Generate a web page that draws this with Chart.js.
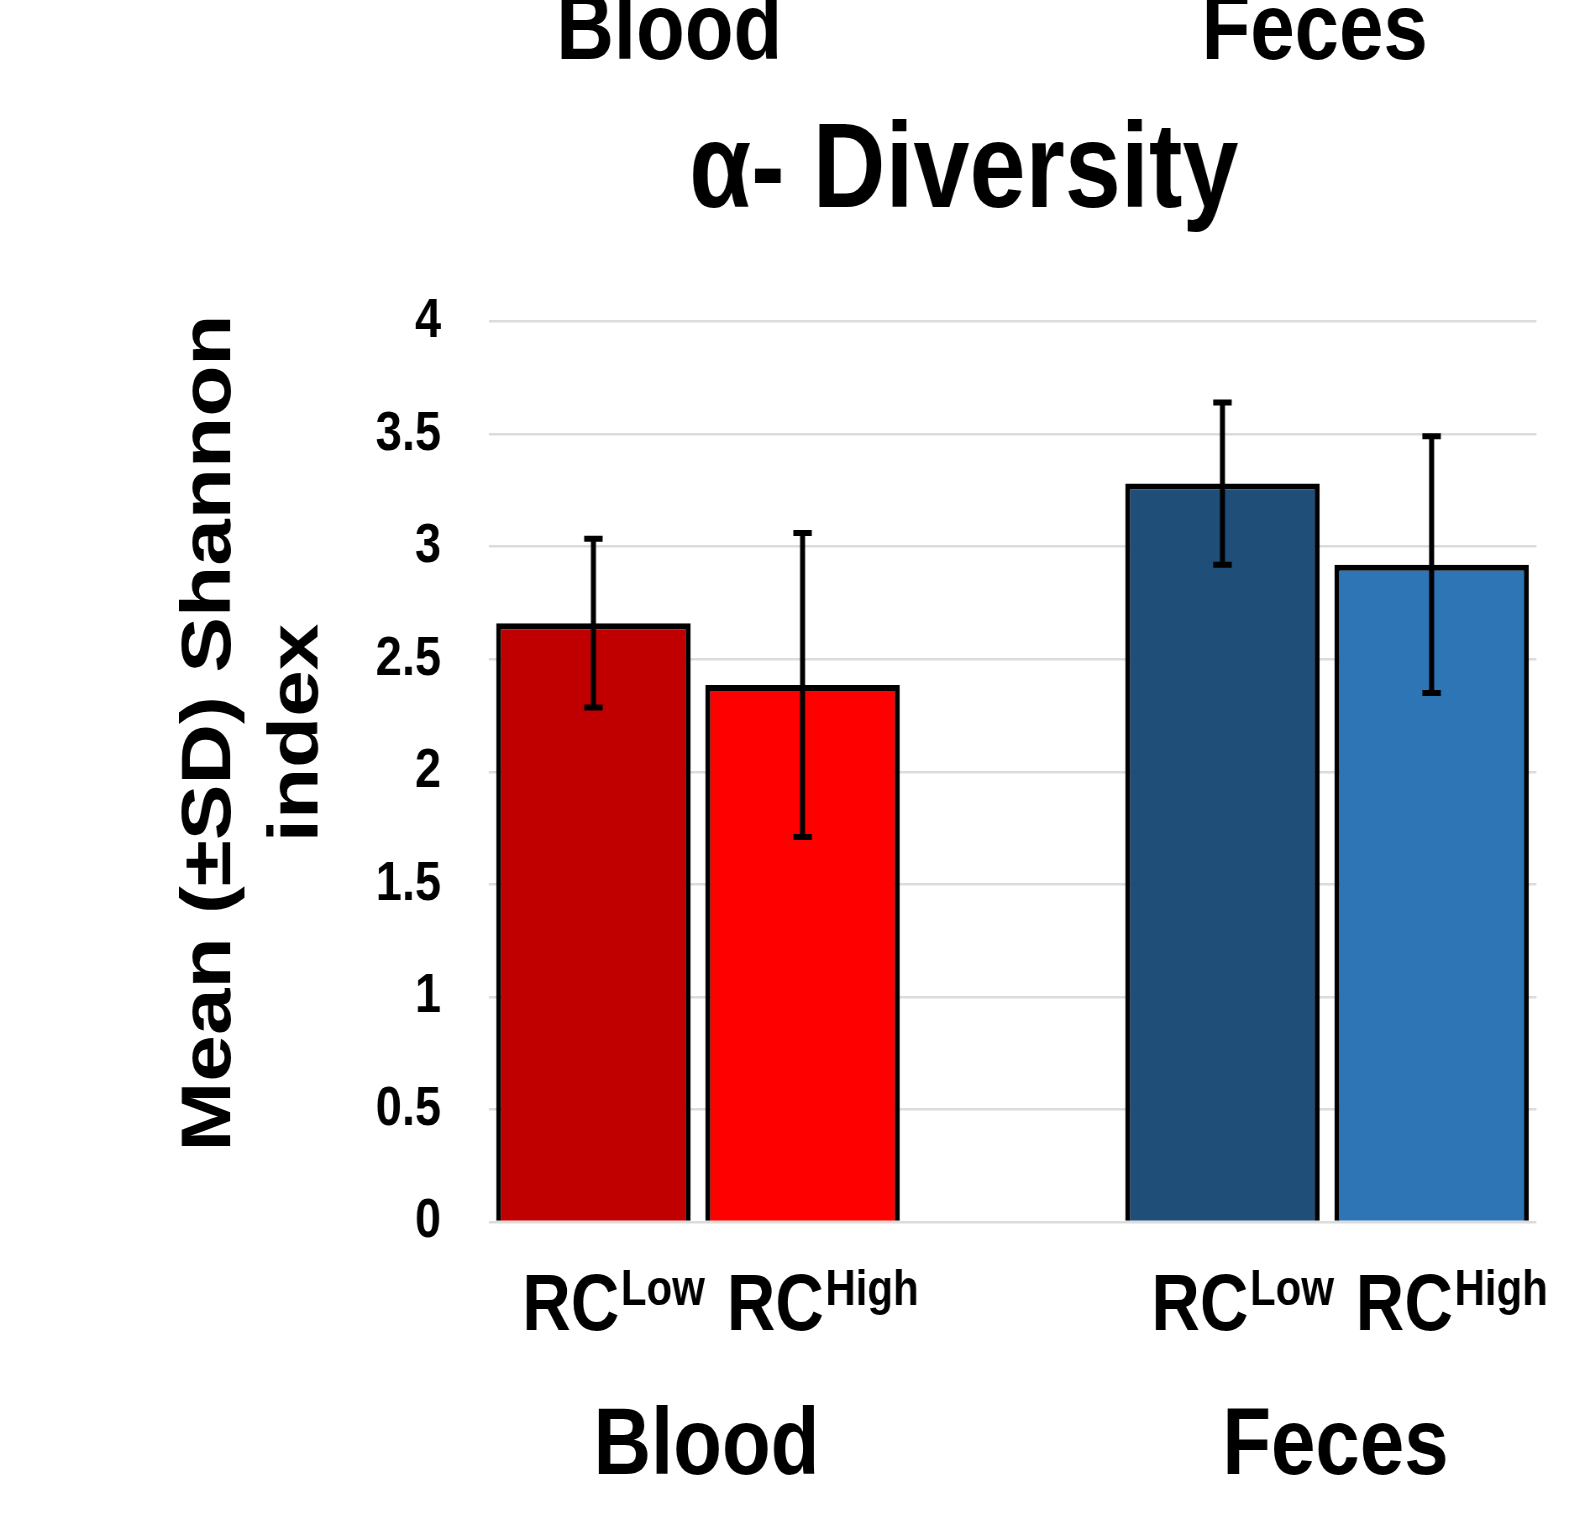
<!DOCTYPE html>
<html>
<head>
<meta charset="utf-8">
<script src="https://cdn.jsdelivr.net/npm/chart.js@4.4.1/dist/chart.umd.min.js"></script>
<style>
  html, body { margin: 0; padding: 0; background: #fff; overflow: hidden; }
  canvas { display: block; }
</style>
</head>
<body>
<!-- drawn wide, then squeezed to 1590px like the original figure -->
<canvas id="myChart" width="1893" height="1522" style="width:1590px;height:1522px"></canvas>
<script>
const groups = ['Blood', 'Feces']
const lowMeans = [2.66, 3.28]
const highMeans = [2.385, 2.92]
const lowSD = [0.375, 0.36]
const highSD = [0.675, 0.57]
const lowColors = ['#C00000', '#1F4E79']
const highColors = ['#FF0000', '#2E75B6']
const yTicks = [0, 0.5, 1, 1.5, 2, 2.5, 3, 3.5, 4]
const chartTitle = 'α- Diversity'
const yTitle = ['Mean (±SD) Shannon', 'index']

const family = "'Liberation Sans', Arial, sans-serif"

const errorBars = {
    id: 'errorBars',
    afterDatasetsDraw(chart) {
        const ctx = chart.ctx
        const y = chart.scales.y
        chart.data.datasets.forEach((ds, i) => {
            chart.getDatasetMeta(i).data.forEach((bar, j) => {
                const v = ds.data[j].y
                const top = y.getPixelForValue(v + ds.sd[j])
                const bottom = y.getPixelForValue(v - ds.sd[j])
                ctx.save()
                ctx.strokeStyle = '#000'
                ctx.lineWidth = 6
                ctx.beginPath()
                ctx.moveTo(bar.x, top)
                ctx.lineTo(bar.x, bottom)
                ctx.moveTo(bar.x - 11, top)
                ctx.lineTo(bar.x + 11, top)
                ctx.moveTo(bar.x - 11, bottom)
                ctx.lineTo(bar.x + 11, bottom)
                ctx.stroke()
                ctx.restore()
            })
        })
    }
}

// RC^Low / RC^High under each bar, the big title and the y title
const textLayer = {
    id: 'textLayer',
    afterDraw(chart) {
        const ctx = chart.ctx
        const base = chart.scales.x.top
        ctx.save()
        ctx.fillStyle = '#000'
        ctx.textBaseline = 'alphabetic'
        ctx.textAlign = 'left'
        chart.data.datasets.forEach((ds, i) => {
            chart.getDatasetMeta(i).data.forEach((bar) => {
                ctx.font = `bold 80px ${family}`
                const w1 = ctx.measureText('RC').width
                ctx.font = `bold 50px ${family}`
                const w2 = ctx.measureText(ds.label).width
                const x = bar.x + 23 - (w1 + w2) / 2
                ctx.font = `bold 80px ${family}`
                ctx.fillText('RC', x, base + 108)
                ctx.font = `bold 50px ${family}`
                ctx.fillText(ds.label, x + w1 + 2, base + 83)
            })
        })

        ctx.font = `bold 120px ${family}`
        ctx.textAlign = 'center'
        ctx.textBaseline = 'middle'
        ctx.fillText(chartTitle, chart.width / 2 + 201, 174)

        // y title, sized so the first line is 837px long
        ctx.font = `bold 100px ${family}`
        const size = 100 * 837 / ctx.measureText(yTitle[0]).width
        ctx.font = `bold ${size}px ${family}`
        ctx.textBaseline = 'alphabetic'
        const mid = 733
        ;[274, 378].forEach((bx, k) => {
            ctx.save()
            ctx.translate(bx, mid)
            ctx.rotate(-Math.PI / 2)
            ctx.fillText(yTitle[k], 0, 0)
            ctx.restore()
        })
        ctx.restore()
    }
}

const data = {
    datasets: [
        {
            label: 'Low',
            xAxisID: 'x',
            data: groups.map((g, j) => ({ x: j + 1, y: lowMeans[j] })),
            sd: lowSD,
            backgroundColor: lowColors,
            borderColor: '#000',
            borderWidth: 6
        },
        {
            label: 'High',
            xAxisID: 'x',
            data: groups.map((g, j) => ({ x: j + 1, y: highMeans[j] })),
            sd: highSD,
            backgroundColor: highColors,
            borderColor: '#000',
            borderWidth: 6
        }
    ]
}

const groupTicks = (s) => { s.ticks = groups.map((g, i) => ({ value: i + 1 })) }
const bigFont = { size: 95, weight: 'bold', family: family, lineHeight: 1 }
// fixed box size, and no extra side padding from the big labels
const fixHeight = (h) => (s) => {
    s.height = h
    s.paddingLeft = 0
    s.paddingRight = 0
}

const config = {
    type: 'bar',
    data: data,
    plugins: [errorBars, textLayer],
    options: {
        responsive: false,
        animation: false,
        layout: { padding: { left: 0, right: 63.7, top: 0, bottom: 0 } },
        datasets: { bar: { categoryPercentage: 0.665, barPercentage: 0.93 } },
        plugins: {
            legend: { display: false },
            tooltip: { enabled: false },
            title: { display: false }
        },
        scales: {
            x: {
                type: 'linear',
                position: 'bottom',
                offset: false,
                min: 0.6678,
                max: 2.333,
                grid: { display: false },
                border: { display: false },
                afterBuildTicks: groupTicks,
                afterFit: fixHeight(300),
                ticks: {
                    callback: (v) => groups[v - 1],
                    font: bigFont,
                    color: '#000',
                    padding: 170.5,
                    labelOffset: 10,
                    maxRotation: 0,
                    minRotation: 0,
                    autoSkip: false
                }
            },
            xTop: {
                type: 'linear',
                axis: 'x',
                position: 'top',
                offset: false,
                min: 0.7208,
                max: 2.3438,
                grid: { display: false },
                border: { display: false },
                afterBuildTicks: groupTicks,
                afterFit: fixHeight(321.5),
                ticks: {
                    callback: (v) => groups[v - 1],
                    font: bigFont,
                    color: '#000',
                    padding: 233,
                    maxRotation: 0,
                    minRotation: 0,
                    autoSkip: false
                }
            },
            y: {
                min: 0,
                max: 4,
                afterBuildTicks: (s) => { s.ticks = yTicks.map(v => ({ value: v })) },
                afterFit: (s) => { s.width = 582.2 },
                grid: { color: '#dcdcdc', lineWidth: 2.5, drawTicks: false },
                border: { display: false },
                ticks: {
                    callback: (v) => String(v),
                    font: { size: 56, weight: 'bold', family: family },
                    color: '#000',
                    padding: 57
                }
            }
        }
    }
}

var myChart = new Chart(document.getElementById('myChart'), config)
</script>
</body>
</html>
